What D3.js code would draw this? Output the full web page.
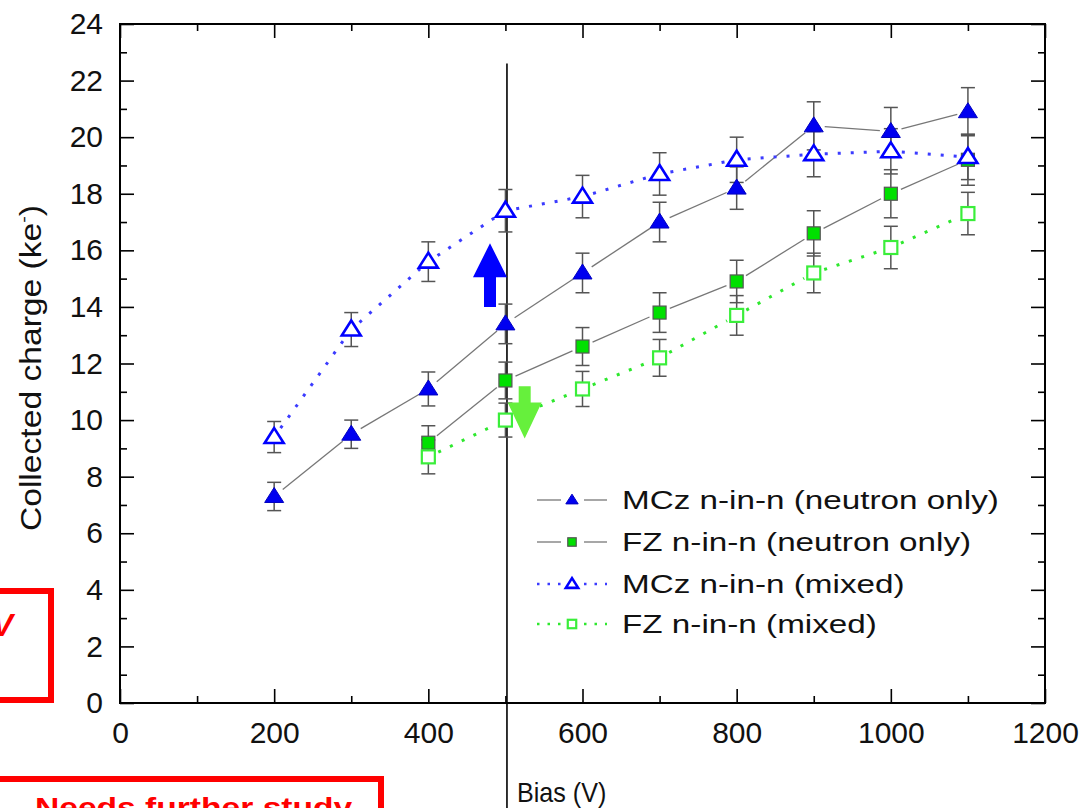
<!DOCTYPE html>
<html>
<head>
<meta charset="utf-8">
<script src="https://cdn.jsdelivr.net/npm/d3@7"></script>
<style>
  body { margin: 0; background: #fff; }
  svg { display: block; font-family: "Liberation Sans", Arial, sans-serif; }
</style>
</head>
<body>
<script>
// data
var bias = [200, 300, 400, 500, 600, 700, 800, 900, 1000, 1100];
var fzBias = [400, 500, 600, 700, 800, 900, 1000, 1100];

var mczNeutron = [7.3, 9.5, 11.1, 13.4, 15.2, 17.0, 18.2, 20.4, 20.2, 20.9];
var mczNeutronErr = [0.5, 0.5, 0.6, 0.7, 0.7, 0.7, 0.75, 0.85, 0.85, 0.85];

var fzNeutron = [9.2, 11.4, 12.6, 13.8, 14.9, 16.6, 18.0, 19.2];
var fzNeutronErr = [0.6, 0.65, 0.67, 0.7, 0.75, 0.8, 0.85, 0.9];

var mczMixed = [9.4, 13.2, 15.6, 17.4, 17.9, 18.7, 19.2, 19.4, 19.5, 19.3];
var mczMixedErr = [0.55, 0.6, 0.7, 0.75, 0.75, 0.75, 0.8, 0.8, 0.8, 0.8];

var fzMixed = [8.7, 10.0, 11.1, 12.2, 13.7, 15.2, 16.1, 17.3];
var fzMixedErr = [0.6, 0.6, 0.62, 0.65, 0.7, 0.7, 0.75, 0.75];

var legendLabels = ["MCz n-in-n (neutron only)", "FZ n-in-n (neutron only)",
                    "MCz n-in-n (mixed)", "FZ n-in-n (mixed)"];

var yTicks = d3.range(0, 25, 2);
var xTicks = d3.range(0, 1201, 200);

var svgWidth = 1092;
var svgHeight = 808;

var margin = {top: 24, right: 47, bottom: 105, left: 120};

var svg = d3.select("body")
            .append("svg")
            .attr("width", svgWidth)
            .attr("height", svgHeight);

var xScale = d3.scaleLinear()
               .domain([0, 1200])
               .range([margin.left, svgWidth - margin.right]);

var yScale = d3.scaleLinear()
               .domain([0, 24])
               .range([svgHeight - margin.bottom, margin.top]);

var x0 = xScale(0), x1 = xScale(1200), y0 = yScale(0), y1 = yScale(24);

// axes: ticks pointing inwards on all four sides
function styleAxis(g) {
  g.select(".domain").remove();
  g.selectAll("line").attr("stroke", "#000").attr("stroke-width", 1.6);
  g.selectAll("text").attr("font-size", 30).attr("fill", "#111")
   .attr("font-family", "'Liberation Sans', Arial, sans-serif");
}

svg.append("g").attr("transform", `translate(${x0},0)`)
   .call(d3.axisLeft(yScale).tickValues(yTicks).tickSize(-14).tickPadding(17).tickFormat(d3.format("d")))
   .call(styleAxis);
svg.append("g").attr("transform", `translate(${x0},0)`)
   .call(d3.axisLeft(yScale).tickValues(d3.range(1, 24, 2)).tickSize(-7).tickFormat(""))
   .call(styleAxis);
svg.append("g").attr("transform", `translate(${x1},0)`)
   .call(d3.axisRight(yScale).tickValues(yTicks).tickSize(-14).tickFormat(""))
   .call(styleAxis);
svg.append("g").attr("transform", `translate(${x1},0)`)
   .call(d3.axisRight(yScale).tickValues(d3.range(1, 24, 2)).tickSize(-7).tickFormat(""))
   .call(styleAxis);

svg.append("g").attr("transform", `translate(0,${y0})`)
   .call(d3.axisBottom(xScale).tickValues(xTicks).tickSize(-14).tickPadding(19).tickFormat(d3.format("d")))
   .call(styleAxis);
svg.append("g").attr("transform", `translate(0,${y0})`)
   .call(d3.axisBottom(xScale).tickValues(d3.range(100, 1200, 200)).tickSize(-7).tickFormat(""))
   .call(styleAxis);
svg.append("g").attr("transform", `translate(0,${y1})`)
   .call(d3.axisTop(xScale).tickValues(xTicks).tickSize(-14).tickFormat(""))
   .call(styleAxis);
svg.append("g").attr("transform", `translate(0,${y1})`)
   .call(d3.axisTop(xScale).tickValues(d3.range(100, 1200, 200)).tickSize(-7).tickFormat(""))
   .call(styleAxis);

svg.append("rect")
   .attr("x", x0).attr("y", y1)
   .attr("width", x1 - x0).attr("height", y0 - y1)
   .attr("fill", "none").attr("stroke", "#000").attr("stroke-width", 2);

// axis titles
svg.append("text")
   .attr("transform", "translate(517,802) scale(0.93,1)")
   .attr("font-size", 27).attr("fill", "#111")
   .text("Bias (V)");

var yTitle = svg.append("text")
   .attr("transform", "translate(41,368) rotate(-90) scale(1.16,1)")
   .attr("text-anchor", "middle")
   .attr("font-size", 29).attr("fill", "#111");
yTitle.append("tspan").text("Collected charge (ke");
yTitle.append("tspan").attr("font-size", 17).attr("dy", -12).text("-");
yTitle.append("tspan").attr("dy", 12).text(")");

// vertical marker line
svg.append("line")
   .attr("x1", xScale(502)).attr("x2", xScale(502))
   .attr("y1", yScale(22.6)).attr("y2", svgHeight + 5)
   .attr("stroke", "#000").attr("stroke-width", 1.6);

// series definitions
var series = [
  {xs: bias, ys: mczNeutron, err: mczNeutronErr, line: "#777", dash: null, marker: "triFill"},
  {xs: fzBias, ys: fzNeutron, err: fzNeutronErr, line: "#777", dash: null, marker: "sqFill"},
  {xs: bias, ys: mczMixed, err: mczMixedErr, line: "#3b3bff", dash: "3 10", marker: "triOpen"},
  {xs: fzBias, ys: fzMixed, err: fzMixedErr, line: "#2ee82e", dash: "3 10", marker: "sqOpen"}
];

function drawMarker(g, type, cx, cy, s) {
  if (type === "triFill" || type === "triOpen") {
    var pts = [[cx, cy - 9 * s], [cx - 9.5 * s, cy + 6 * s], [cx + 9.5 * s, cy + 6 * s]];
    g.append("path")
     .attr("d", "M" + pts.join("L") + "Z")
     .attr("fill", type === "triFill" ? "#0000f0" : "#fff")
     .attr("stroke", type === "triFill" ? "#0000c0" : "#0000ff")
     .attr("stroke-width", type === "triFill" ? 1 : 2.6)
     .attr("stroke-linejoin", "miter");
  } else {
    var h = 6.5 * s;
    g.append("rect")
     .attr("x", cx - h).attr("y", cy - h)
     .attr("width", 2 * h).attr("height", 2 * h)
     .attr("fill", type === "sqFill" ? "#00e000" : "#fff")
     .attr("stroke", type === "sqFill" ? "#555" : "#3aee3a")
     .attr("stroke-width", type === "sqFill" ? 1.2 : 2.2);
  }
}

// connecting lines with a gap at each marker
var gap = 11;
series.forEach(function(s) {
  var g = svg.append("g");
  for (var i = 0; i < s.xs.length - 1; i++) {
    var ax = xScale(s.xs[i]), ay = yScale(s.ys[i]);
    var bx = xScale(s.xs[i + 1]), by = yScale(s.ys[i + 1]);
    var len = Math.hypot(bx - ax, by - ay);
    var ux = (bx - ax) / len, uy = (by - ay) / len;
    g.append("line")
     .attr("x1", ax + ux * gap).attr("y1", ay + uy * gap)
     .attr("x2", bx - ux * gap).attr("y2", by - uy * gap)
     .attr("stroke", s.line)
     .attr("stroke-width", s.dash ? 3 : 1.3)
     .attr("stroke-dasharray", s.dash);
  }
});

// error bars
series.forEach(function(s) {
  var g = svg.append("g").attr("stroke", "#555").attr("stroke-width", 1.5);
  s.xs.forEach(function(xv, i) {
    var cx = xScale(xv);
    var top = yScale(s.ys[i] + s.err[i]), bot = yScale(s.ys[i] - s.err[i]);
    g.append("line").attr("x1", cx).attr("x2", cx).attr("y1", top).attr("y2", bot);
    g.append("line").attr("x1", cx - 7).attr("x2", cx + 7).attr("y1", top).attr("y2", top);
    g.append("line").attr("x1", cx - 7).attr("x2", cx + 7).attr("y1", bot).attr("y2", bot);
  });
});

// markers
series.forEach(function(s) {
  var g = svg.append("g");
  s.xs.forEach(function(xv, i) {
    drawMarker(g, s.marker, xScale(xv), yScale(s.ys[i]), 1);
  });
});

// arrows
function arrow(xv, yFrom, yTo, headLen, color) {
  var cx = xScale(xv), a = yScale(yFrom), b = yScale(yTo);
  var dir = b < a ? -1 : 1;
  var hb = b - dir * headLen;
  svg.append("path")
     .attr("d", `M${cx - 6},${a} L${cx - 6},${hb} L${cx - 17},${hb} L${cx},${b} L${cx + 17},${hb} L${cx + 6},${hb} L${cx + 6},${a} Z`)
     .attr("fill", color);
}
arrow(480, 14.0, 16.25, 34, "#0000ff");
arrow(525, 11.2, 9.35, 36, "#66f03c");

// legend
var legendG = svg.append("g");
var rowY = [500, 542, 584, 624];
series.forEach(function(s, i) {
  var ly = rowY[i];
  legendG.append("line").attr("x1", 537).attr("x2", 561).attr("y1", ly).attr("y2", ly)
         .attr("stroke", s.line).attr("stroke-width", s.dash ? 2.5 : 1.3)
         .attr("stroke-dasharray", s.dash ? "2.5 8" : null);
  legendG.append("line").attr("x1", 584).attr("x2", 607).attr("y1", ly).attr("y2", ly)
         .attr("stroke", s.line).attr("stroke-width", s.dash ? 2.5 : 1.3)
         .attr("stroke-dasharray", s.dash ? "2.5 8" : null);
  drawMarker(legendG, s.marker, 572, ly, 0.65);
  legendG.append("text")
         .attr("transform", `translate(622,${ly + 9}) scale(1.33,1)`)
         .attr("font-size", 25).attr("fill", "#111")
         .text(legendLabels[i]);
});

// red annotation boxes (cut by the frame edge)
svg.append("rect").attr("x", -10).attr("y", 591).attr("width", 61).attr("height", 109)
   .attr("fill", "none").attr("stroke", "#ff0000").attr("stroke-width", 6);
svg.append("text").attr("x", 13).attr("y", 636).attr("text-anchor", "end")
   .attr("font-size", 32).attr("font-weight", "bold").attr("font-style", "italic")
   .attr("fill", "#ff0000").text("V");

svg.append("rect").attr("x", -10).attr("y", 779).attr("width", 391).attr("height", 60)
   .attr("fill", "none").attr("stroke", "#ff0000").attr("stroke-width", 6);
svg.append("text").attr("transform", "translate(35,817) scale(1.2,1)")
   .attr("font-size", 28).attr("font-weight", "bold")
   .attr("fill", "#ff0000").text("Needs further study");
</script>
</body>
</html>
